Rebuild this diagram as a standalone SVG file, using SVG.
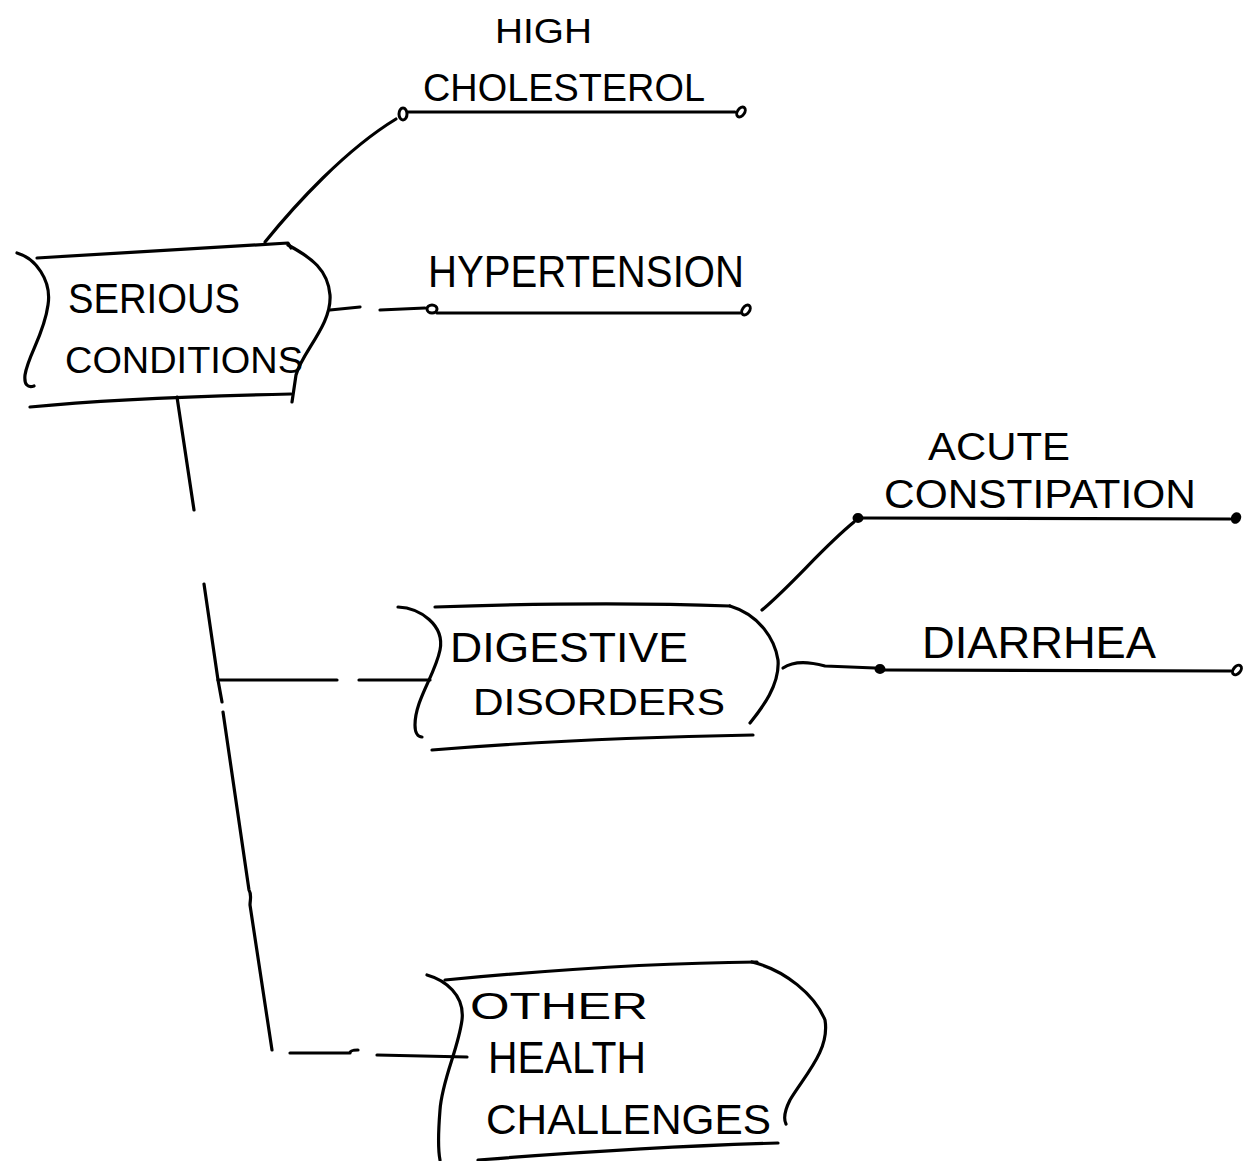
<svg xmlns="http://www.w3.org/2000/svg" width="1244" height="1161" viewBox="0 0 1244 1161">
<style>
.ln{fill:none;stroke:#000;stroke-width:3.2;stroke-linecap:round;stroke-linejoin:round}
.t{font-family:"Liberation Sans",Arial,sans-serif;fill:#000}
.o{fill:#fff;stroke:#000;stroke-width:3}
.f{fill:#000;stroke:#000;stroke-width:2}
</style>
<rect width="1244" height="1161" fill="#fff"/>
<g id="connectors">
  <path class="ln" d="M265,242 C295,205 345,150 396,119"/>
  <path class="ln" d="M408,112 L735,112"/>
  <ellipse class="o" cx="403" cy="114" rx="4" ry="6"/>
  <ellipse class="o" cx="741" cy="112" rx="3.5" ry="5.5" transform="rotate(35 741 112)"/>
  <path class="ln" d="M330,310 L360,307 M380,310 L425,308"/>
  <ellipse class="o" cx="432" cy="309" rx="5" ry="4"/>
  <path class="ln" d="M437,313 L740,313"/>
  <ellipse class="o" cx="746" cy="310" rx="3.5" ry="5.5" transform="rotate(35 746 310)"/>
  <path class="ln" d="M177,397 L194,510 M204,584 L218,680 L222,702 M223,712 L249,890 C252,895 250,900 250,905 L272,1050"/>
  <path class="ln" d="M218,680 L337,680 M359,680 L430,680"/>
  <path class="ln" d="M290,1053 L350,1053 C350,1050 355,1050 358,1050 M377,1055 L467,1057"/>
  <path class="ln" d="M762,610 C795,582 822,548 854,522"/>
  <ellipse class="f" cx="858" cy="518" rx="4.5" ry="4"/>
  <path class="ln" d="M862,518 L1230,519"/>
  <ellipse class="f" cx="1236" cy="518" rx="4" ry="5" transform="rotate(30 1236 518)"/>
  <path class="ln" d="M783,668 C795,660 810,662 825,666 L875,668"/>
  <ellipse class="f" cx="880" cy="669" rx="4.5" ry="4"/>
  <path class="ln" d="M884,670 L1231,671"/>
  <ellipse class="o" cx="1237" cy="670" rx="3.5" ry="5.5" transform="rotate(40 1237 670)"/>
</g>
<g id="serious">
  <path class="ln" d="M17,253 C35,258 52,280 48,305 C44,335 28,355 25,375 C24,385 28,388 34,386"/>
  <path class="ln" d="M37,258 L288,243 L291,248"/>
  <path class="ln" d="M288,245 C312,258 328,270 330,295 C332,325 302,352 296,375 L292,402"/>
  <path class="ln" d="M30,407 C100,400 200,396 291,394"/>
  <text class="t" x="68" y="313" font-size="43" textLength="172" lengthAdjust="spacingAndGlyphs">SERIOUS</text>
  <text class="t" x="65" y="373" font-size="36" textLength="238" lengthAdjust="spacingAndGlyphs">CONDITIONS</text>
</g>
<g id="high-cholesterol">
  <text class="t" x="495" y="43" font-size="35" textLength="97" lengthAdjust="spacingAndGlyphs">HIGH</text>
  <text class="t" x="423" y="101" font-size="38" textLength="282" lengthAdjust="spacingAndGlyphs">CHOLESTEROL</text>
</g>
<g id="hypertension">
  <text class="t" x="428" y="287" font-size="44" textLength="316" lengthAdjust="spacingAndGlyphs">HYPERTENSION</text>
</g>
<g id="digestive">
  <path class="ln" d="M398,607 C420,608 445,625 440,650 C435,675 415,700 415,725 C415,733 418,737 422,737"/>
  <path class="ln" d="M435,607 C550,603 650,603 730,606"/>
  <path class="ln" d="M730,606 C760,615 775,640 778,660 C780,685 762,708 750,723"/>
  <path class="ln" d="M432,750 C530,742 640,737 753,735"/>
  <text class="t" x="450" y="662" font-size="43" textLength="238" lengthAdjust="spacingAndGlyphs">DIGESTIVE</text>
  <text class="t" x="473" y="715" font-size="36" textLength="252" lengthAdjust="spacingAndGlyphs">DISORDERS</text>
</g>
<g id="acute-constipation">
  <text class="t" x="928" y="460" font-size="38" textLength="142" lengthAdjust="spacingAndGlyphs">ACUTE</text>
  <text class="t" x="884" y="508" font-size="40" textLength="312" lengthAdjust="spacingAndGlyphs">CONSTIPATION</text>
</g>
<g id="diarrhea">
  <text class="t" x="922" y="658" font-size="44" textLength="234" lengthAdjust="spacingAndGlyphs">DIARRHEA</text>
</g>
<g id="other">
  <path class="ln" d="M427,975 C445,980 465,995 462,1020 C458,1050 442,1080 440,1110 C438,1135 438,1150 440,1160"/>
  <path class="ln" d="M445,980 C550,970 650,963 757,962"/>
  <path class="ln" d="M752,962 C785,970 815,995 825,1020 C830,1050 805,1075 790,1100 C785,1110 783,1118 786,1124"/>
  <path class="ln" d="M478,1160 C580,1152 680,1146 778,1143"/>
  <text class="t" x="470" y="1019" font-size="36" textLength="178" lengthAdjust="spacingAndGlyphs">OTHER</text>
  <text class="t" x="488" y="1073" font-size="44" textLength="158" lengthAdjust="spacingAndGlyphs">HEALTH</text>
  <text class="t" x="486" y="1134" font-size="42" textLength="285" lengthAdjust="spacingAndGlyphs">CHALLENGES</text>
</g>
</svg>
